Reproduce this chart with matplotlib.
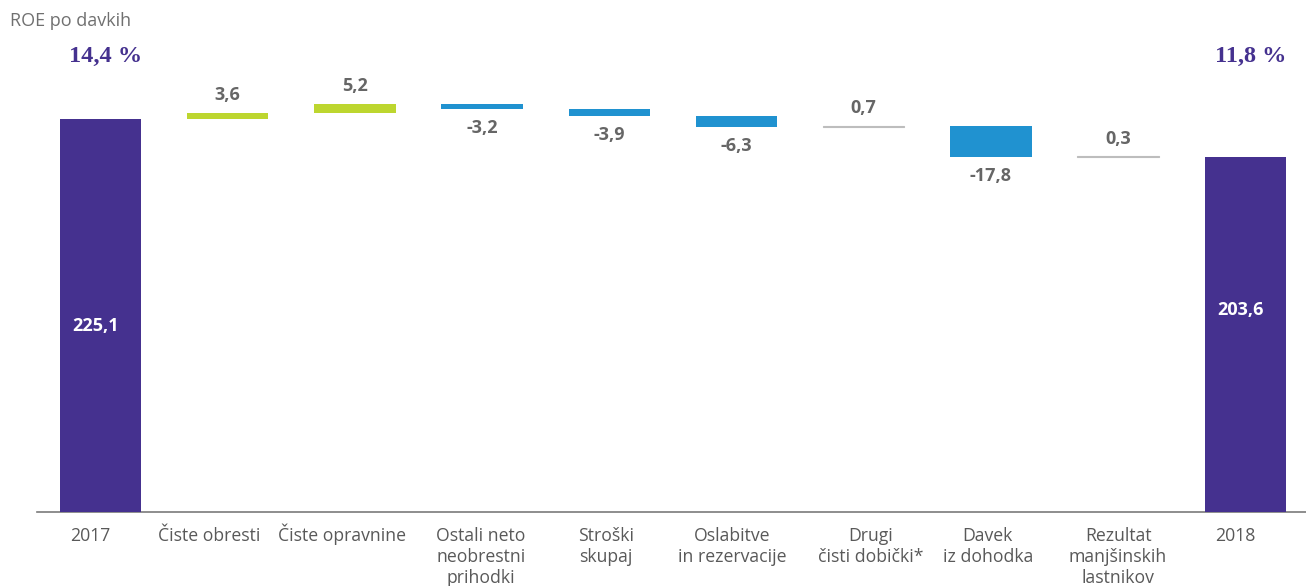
import matplotlib
matplotlib.use("Agg")
import matplotlib.pyplot as plt
from matplotlib.transforms import offset_copy, blended_transform_factory
import numpy as np

# ---- data ----
categories = ["2017", "Čiste obresti", "Čiste opravnine", "Ostali neto\nneobrestni\nprihodki",
              "Stroški\nskupaj", "Oslabitve\nin rezervacije", "Drugi\nčisti dobički*",
              "Davek\niz dohodka", "Rezultat\nmanjšinskih\nlastnikov", "2018"]
start_value = 225.1
end_value = 203.6
deltas = [3.6, 5.2, -3.2, -3.9, -6.3, 0.7, -17.8, 0.3]
delta_labels = ["3,6", "5,2", "-3,2", "-3,9", "-6,3", "0,7", "-17,8", "0,3"]
total_labels = ["225,1", "203,6"]
roe_labels = ["14,4 %", "11,8 %"]
delta_kind = ["pos", "pos", "neg", "neg", "neg", "other", "neg", "other"]

# ---- style ----
PURPLE = "#45318f"
LIME = "#bdd62f"
BLUE = "#2092d0"
GREY_LINE = "#bdbdbd"
TXT = "#666666"
CAT_TXT = "#595959"
kind_color = {"pos": LIME, "neg": BLUE, "other": GREY_LINE}
cat_dx_px = [-10, -19, -13, -1, -3, -4, 7, -3, 0, -10]   # label nudges (pixels)
total_label_frac = [0.473, 0.568]                         # vertical place of white labels
total_dx_px = [-5, -4.5]

plt.rcParams['font.family'] = ['Open Sans', 'DejaVu Sans']

W, H = 1306, 586
fig = plt.figure(figsize=(W / 100, H / 100), dpi=100)
ax_left_px, ax_bottom_px = 37, 74
ax = fig.add_axes([ax_left_px / W, ax_bottom_px / H, (W - ax_left_px) / W, 512 / H])
PT = 72 / 100  # points per pixel

x = np.arange(len(categories))
bw = 0.64

# totals
tx = [x[0], x[-1]]
tv = [start_value, end_value]
ax.bar(tx, tv, width=bw, color=PURPLE, linewidth=0, zorder=3)
for xi, v, lab, fr, dx in zip(tx, tv, total_labels, total_label_frac, total_dx_px):
    ax.annotate(lab, (xi, v * fr), xytext=(dx * PT, 0), textcoords="offset points",
                ha="center", va="center", color="white",
                fontsize=13, fontweight="bold", zorder=4)
roe_tr = blended_transform_factory(ax.transData, fig.transFigure)
for xi, lab in zip(tx, roe_labels):
    ax.text(xi + 5 / 127.2, 1 - 62 / H, lab, transform=roe_tr,
            ha="center", va="baseline", color=PURPLE, fontsize=17.5,
            fontweight="bold", family="Liberation Serif")

# floating deltas
cum = start_value
for i, (d, lab, kind) in enumerate(zip(deltas, delta_labels, delta_kind)):
    xi = x[i + 1]
    bottom = cum if d >= 0 else cum + d
    col = kind_color[kind]
    if kind == "other":
        ax.bar(xi, abs(d), bottom=bottom, width=bw, color=col, edgecolor=col,
               linewidth=0.8, zorder=3)
    else:
        ax.bar(xi, abs(d), bottom=bottom, width=bw, color=col, linewidth=0, zorder=3)
    top = bottom + abs(d)
    if d >= 0:
        ax.annotate(lab, (xi, top), xytext=(0, 9), textcoords="offset points",
                    ha="center", va="baseline", color=TXT, fontsize=13, fontweight="bold")
    else:
        ax.annotate(lab, (xi, bottom), xytext=(0, -7), textcoords="offset points",
                    ha="center", va="top", color=TXT, fontsize=13, fontweight="bold")
    cum += d

ax.set_xlim((ax_left_px - 100.5) / 127.2, (W - 100.5) / 127.2)
ax.set_ylim(0, 512 / 1.746)
for s in ["top", "right", "left"]:
    ax.spines[s].set_visible(False)
ax.spines["bottom"].set_color("#7a7a7a")
ax.spines["bottom"].set_linewidth(1.2)
ax.set_yticks([])
ax.set_xticks([])

# category labels, drawn line by line
cat_tr = blended_transform_factory(ax.transData, ax.transAxes)
for xi, lab, dx in zip(x, categories, cat_dx_px):
    for k, line in enumerate(lab.split("\n")):
        ax.annotate(line, (xi, 0), xycoords=cat_tr,
                    xytext=(dx * PT, -(29 + 21 * k) * PT), textcoords="offset points",
                    ha="center", va="baseline", color=CAT_TXT, fontsize=12.7,
                    annotation_clip=False)

fig.text(10 / W, 1 - 26 / H, "ROE po davkih", ha="left", va="baseline",
         color="#707070", fontsize=13)

fig.savefig("out.png", dpi=100)
